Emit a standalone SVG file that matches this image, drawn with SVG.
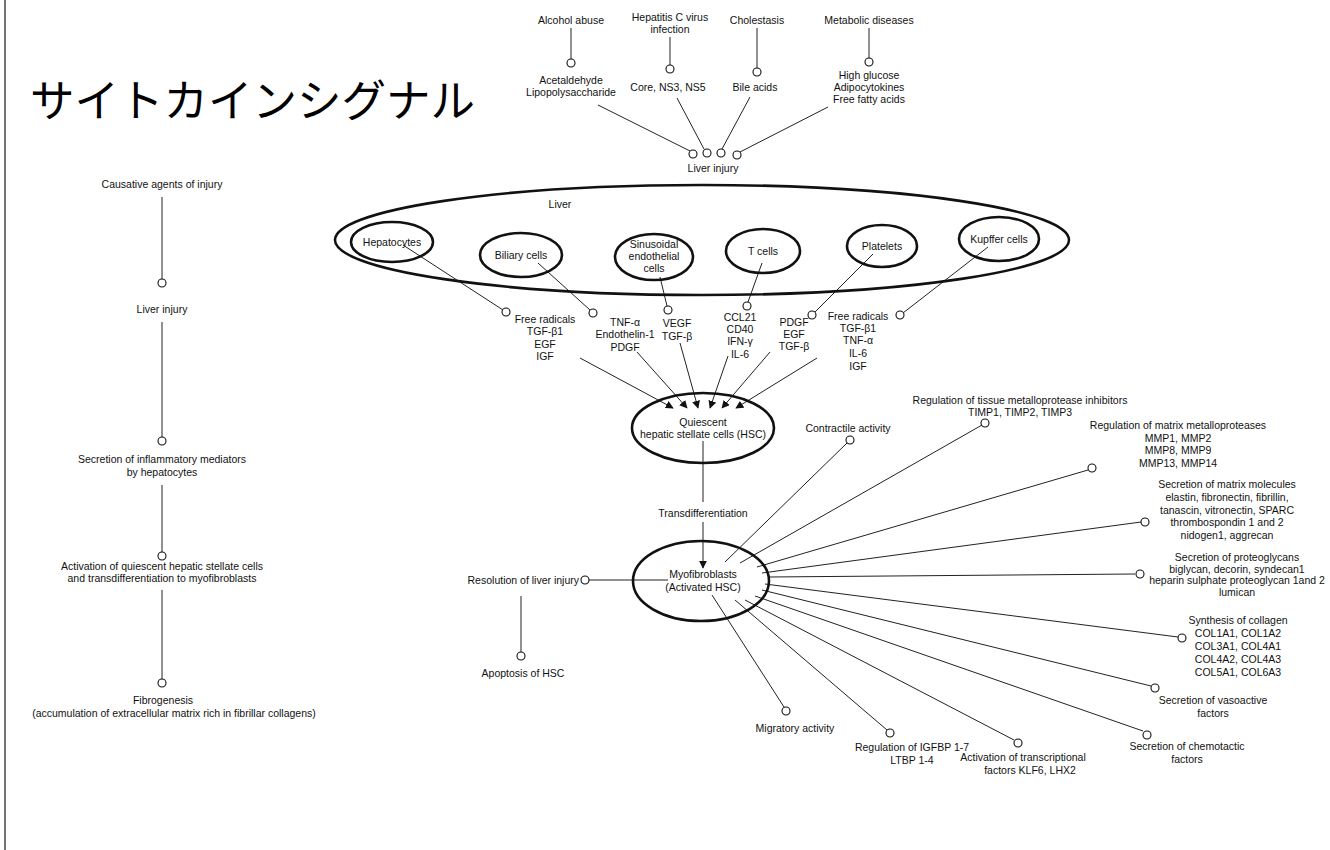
<svg xmlns="http://www.w3.org/2000/svg" width="1330" height="850" viewBox="0 0 1330 850">
<defs>
<marker id="arr" viewBox="0 0 10 10" refX="9" refY="5" markerWidth="8" markerHeight="8" orient="auto" markerUnits="userSpaceOnUse">
<path d="M0,0 L10,5 L0,10 z" fill="#111"/>
</marker>
<style>
text{font-family:"Liberation Sans",Arial,sans-serif;font-size:10.5px;fill:#111;text-anchor:middle}
.t{font-family:"Noto Sans CJK JP","Noto Sans CJK SC",sans-serif;font-size:44.5px;text-anchor:start;fill:#000}
.e{fill:none;stroke:#111;stroke-width:2.6}
.c{fill:#fff;stroke:#111;stroke-width:1.1}
.l{stroke:#222;stroke-width:1;fill:none}
</style>
</defs>
<rect width="1330" height="850" fill="#fff"/>
<line x1="5" y1="0" x2="5" y2="850" stroke="#444" stroke-width="1.5"/>
<text class="t" x="30" y="117">サイトカインシグナル</text>

<g id="connectors">
<line class="l" x1="162" y1="197" x2="162" y2="279"/>
<line class="l" x1="162" y1="322" x2="162" y2="437"/>
<line class="l" x1="162" y1="485" x2="162" y2="552"/>
<line class="l" x1="162" y1="590" x2="162" y2="679"/>
<line class="l" x1="571" y1="28" x2="571" y2="59"/>
<line class="l" x1="670" y1="37" x2="670" y2="65"/>
<line class="l" x1="757" y1="28" x2="757" y2="68"/>
<line class="l" x1="869" y1="28" x2="869" y2="58"/>
<line class="l" x1="598" y1="105" x2="690" y2="151"/>
<line class="l" x1="677" y1="98" x2="704" y2="149"/>
<line class="l" x1="750" y1="97" x2="722" y2="149"/>
<line class="l" x1="828" y1="107" x2="740" y2="152"/>
<line class="l" x1="403" y1="245" x2="503" y2="310"/>
<line class="l" x1="538" y1="263" x2="590" y2="310"/>
<line class="l" x1="660" y1="277" x2="667" y2="306"/>
<line class="l" x1="762" y1="263" x2="748" y2="302"/>
<line class="l" x1="873" y1="254" x2="815" y2="312"/>
<line class="l" x1="988" y1="247" x2="903" y2="313"/>
<line class="l" x1="580" y1="358" x2="673" y2="408" marker-end="url(#arr)"/>
<line class="l" x1="637" y1="352" x2="687" y2="408" marker-end="url(#arr)"/>
<line class="l" x1="680" y1="343" x2="698" y2="408" marker-end="url(#arr)"/>
<line class="l" x1="728" y1="356" x2="710" y2="408" marker-end="url(#arr)"/>
<line class="l" x1="770" y1="352" x2="722" y2="408" marker-end="url(#arr)"/>
<line class="l" x1="817" y1="358" x2="736" y2="408" marker-end="url(#arr)"/>
<line class="l" x1="703" y1="441" x2="703" y2="502"/>
<line class="l" x1="703" y1="522" x2="703" y2="568" marker-end="url(#arr)"/>
<line class="l" x1="589" y1="580" x2="668" y2="580"/>
<line class="l" x1="521" y1="596" x2="521" y2="652"/>
<line class="l" x1="725" y1="562" x2="847" y2="443"/>
<line class="l" x1="740" y1="563" x2="982" y2="425"/>
<line class="l" x1="757" y1="567" x2="1088" y2="470"/>
<line class="l" x1="762" y1="573" x2="1141" y2="522"/>
<line class="l" x1="768" y1="577" x2="1135" y2="574"/>
<line class="l" x1="765" y1="584" x2="1178" y2="637"/>
<line class="l" x1="762" y1="590" x2="1151" y2="686"/>
<line class="l" x1="755" y1="596" x2="1143" y2="731"/>
<line class="l" x1="745" y1="600" x2="1014" y2="740"/>
<line class="l" x1="735" y1="600" x2="887" y2="730"/>
<line class="l" x1="712" y1="595" x2="784" y2="707"/>
</g>

<g id="causative"><text x="162" y="188">Causative agents of injury</text></g>
<g id="left-liver-injury"><circle class="c" cx="162" cy="283" r="4"/><text x="162" y="313">Liver injury</text></g>
<g id="left-secretion"><circle class="c" cx="162" cy="441" r="4"/><text x="162" y="463">Secretion of inflammatory mediators</text><text x="162" y="476">by hepatocytes</text></g>
<g id="left-activation"><circle class="c" cx="162" cy="556" r="4"/><text x="162" y="570">Activation of quiescent hepatic stellate cells</text><text x="162" y="582">and transdifferentiation to myofibroblasts</text></g>
<g id="left-fibrogenesis"><circle class="c" cx="162" cy="683" r="4"/><text x="163" y="704">Fibrogenesis</text><text x="174" y="717">(accumulation of extracellular matrix rich in fibrillar collagens)</text></g>

<g id="alcohol"><text x="571" y="24">Alcohol abuse</text><circle class="c" cx="571" cy="63" r="4"/><text x="571" y="84">Acetaldehyde</text><text x="571" y="96">Lipopolysaccharide</text></g>
<g id="hepc"><text x="670" y="21">Hepatitis C virus</text><text x="670" y="33">infection</text><circle class="c" cx="670" cy="69" r="4"/><text x="668" y="91">Core, NS3, NS5</text></g>
<g id="cholestasis"><text x="757" y="24">Cholestasis</text><circle class="c" cx="757" cy="72" r="4"/><text x="755" y="91">Bile acids</text></g>
<g id="metabolic"><text x="869" y="24">Metabolic diseases</text><circle class="c" cx="869" cy="62" r="4"/><text x="869" y="79">High glucose</text><text x="869" y="91">Adipocytokines</text><text x="869" y="103">Free fatty acids</text></g>
<g id="liver-injury-top"><circle class="c" cx="693" cy="154" r="4"/><circle class="c" cx="707" cy="153" r="4"/><circle class="c" cx="721" cy="153" r="4"/><circle class="c" cx="737" cy="155" r="4"/><text x="713" y="172">Liver injury</text></g>

<g id="liver"><ellipse class="e" cx="702" cy="240" rx="367" ry="55"/><text x="560" y="208">Liver</text></g>
<g id="hepatocytes"><ellipse class="e" cx="392" cy="242" rx="41" ry="20"/><text x="392" y="246">Hepatocytes</text></g>
<g id="biliary"><ellipse class="e" cx="521" cy="255" rx="41" ry="22"/><text x="521" y="259">Biliary cells</text></g>
<g id="sinusoidal"><ellipse class="e" cx="654" cy="257" rx="39" ry="23"/><text x="654" y="248">Sinusoidal</text><text x="654" y="260">endothelial</text><text x="654" y="272">cells</text></g>
<g id="tcells"><ellipse class="e" cx="763" cy="251" rx="37" ry="22"/><text x="763" y="255">T cells</text></g>
<g id="platelets"><ellipse class="e" cx="882" cy="246" rx="35" ry="21"/><text x="882" y="250">Platelets</text></g>
<g id="kupffer"><ellipse class="e" cx="999" cy="239" rx="40" ry="22"/><text x="999" y="243">Kupffer cells</text></g>

<g id="med-hep"><circle class="c" cx="506" cy="312" r="4"/><text x="545" y="323">Free radicals</text><text x="545" y="335">TGF-β1</text><text x="545" y="348">EGF</text><text x="545" y="360">IGF</text></g>
<g id="med-bil"><circle class="c" cx="593" cy="313" r="4"/><text x="625" y="326">TNF-α</text><text x="625" y="338">Endothelin-1</text><text x="625" y="351">PDGF</text></g>
<g id="med-sin"><circle class="c" cx="668" cy="310" r="4"/><text x="677" y="327">VEGF</text><text x="677" y="340">TGF-β</text></g>
<g id="med-t"><circle class="c" cx="747" cy="306" r="4"/><text x="740" y="321">CCL21</text><text x="740" y="333">CD40</text><text x="740" y="345">IFN-γ</text><text x="740" y="358">IL-6</text></g>
<g id="med-plt"><circle class="c" cx="812" cy="315" r="4"/><text x="794" y="326">PDGF</text><text x="794" y="338">EGF</text><text x="794" y="350">TGF-β</text></g>
<g id="med-kup"><circle class="c" cx="900" cy="315" r="4"/><text x="858" y="320">Free radicals</text><text x="858" y="332">TGF-β1</text><text x="858" y="344">TNF-α</text><text x="858" y="357">IL-6</text><text x="858" y="370">IGF</text></g>

<g id="quiescent"><ellipse class="e" cx="703" cy="428" rx="71" ry="35"/><text x="703" y="426">Quiescent</text><text x="703" y="438">hepatic stellate cells (HSC)</text></g>
<g id="transdiff"><text x="703" y="517">Transdifferentiation</text></g>
<g id="myofibroblasts"><ellipse class="e" cx="701" cy="581" rx="68" ry="40"/><text x="703" y="578">Myofibroblasts</text><text x="703" y="591">(Activated HSC)</text></g>
<g id="resolution"><circle class="c" cx="585" cy="580" r="4"/><text x="579" y="584" style="text-anchor:end">Resolution of liver injury</text></g>
<g id="apoptosis"><circle class="c" cx="521" cy="656" r="4"/><text x="523" y="677">Apoptosis of HSC</text></g>

<g id="contractile"><text x="848" y="432">Contractile activity</text><circle class="c" cx="850" cy="440" r="4"/></g>
<g id="timp"><text x="1020" y="404">Regulation of tissue metalloprotease inhibitors</text><text x="1020" y="416">TIMP1, TIMP2, TIMP3</text><circle class="c" cx="985" cy="423" r="4"/></g>
<g id="mmp"><text x="1178" y="429">Regulation of matrix metalloproteases</text><text x="1178" y="442">MMP1, MMP2</text><text x="1178" y="454">MMP8, MMP9</text><text x="1178" y="467">MMP13, MMP14</text><circle class="c" cx="1092" cy="468" r="4"/></g>
<g id="matrix"><text x="1227" y="488">Secretion of matrix molecules</text><text x="1227" y="501">elastin, fibronectin, fibrillin,</text><text x="1227" y="514">tanascin, vitronectin, SPARC</text><text x="1227" y="526">thrombospondin 1 and 2</text><text x="1227" y="539">nidogen1, aggrecan</text><circle class="c" cx="1145" cy="522" r="4"/></g>
<g id="proteoglycans"><text x="1237" y="561">Secretion of proteoglycans</text><text x="1237" y="573">biglycan, decorin, syndecan1</text><text x="1237" y="584">heparin sulphate proteoglycan 1and 2</text><text x="1237" y="596">lumican</text><circle class="c" cx="1140" cy="574" r="4"/></g>
<g id="collagen"><text x="1238" y="624">Synthesis of collagen</text><text x="1238" y="637">COL1A1, COL1A2</text><text x="1238" y="650">COL3A1, COL4A1</text><text x="1238" y="663">COL4A2, COL4A3</text><text x="1238" y="676">COL5A1, COL6A3</text><circle class="c" cx="1182" cy="638" r="4"/></g>
<g id="vasoactive"><circle class="c" cx="1155" cy="688" r="4"/><text x="1213" y="704">Secretion of vasoactive</text><text x="1213" y="717">factors</text></g>
<g id="chemotactic"><circle class="c" cx="1147" cy="735" r="4"/><text x="1187" y="750">Secretion of chemotactic</text><text x="1187" y="763">factors</text></g>
<g id="transcriptional"><circle class="c" cx="1018" cy="743" r="4"/><text x="1023" y="761">Activation of transcriptional</text><text x="1030" y="774">factors KLF6, LHX2</text></g>
<g id="igfbp"><circle class="c" cx="890" cy="733" r="4"/><text x="912" y="751">Regulation of IGFBP 1-7</text><text x="912" y="764">LTBP 1-4</text></g>
<g id="migratory"><circle class="c" cx="786" cy="711" r="4"/><text x="795" y="732">Migratory activity</text></g>
</svg>
